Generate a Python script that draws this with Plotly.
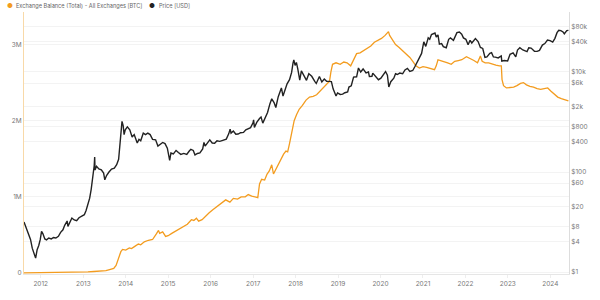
import plotly.graph_objects as go

# ---------------- data ----------------
price_dates = [
 "2011-08-10","2011-08-25","2011-09-15","2011-10-05","2011-10-20","2011-11-05","2011-11-18","2011-12-01","2011-12-15","2011-12-28",
 "2012-01-08","2012-01-20","2012-02-05","2012-02-20","2012-03-10","2012-04-01","2012-04-20","2012-05-10","2012-06-01","2012-06-20",
 "2012-07-10","2012-07-25","2012-08-15","2012-08-22","2012-09-10","2012-09-25","2012-10-15","2012-11-05","2012-11-25","2012-12-15",
 "2013-01-10","2013-01-25","2013-02-10","2013-02-25","2013-03-10","2013-03-25","2013-04-05","2013-04-09","2013-04-12","2013-04-25",
 "2013-05-15","2013-06-05","2013-06-25","2013-07-05","2013-07-20","2013-08-10","2013-09-01","2013-09-25","2013-10-15","2013-11-01",
 "2013-11-10","2013-11-20","2013-11-30","2013-12-10","2013-12-18","2013-12-28","2014-01-15","2014-02-05","2014-02-25","2014-03-15",
 "2014-04-10","2014-04-25","2014-05-10","2014-06-01","2014-06-20","2014-07-10","2014-07-30","2014-08-20","2014-09-15","2014-10-05",
 "2014-10-25","2014-11-15","2014-12-05","2014-12-25","2015-01-14","2015-01-25","2015-02-15","2015-03-10","2015-03-30","2015-04-20",
 "2015-05-15","2015-06-10","2015-06-30","2015-07-15","2015-08-05","2015-08-20","2015-09-10","2015-10-01","2015-10-25","2015-11-05",
 "2015-11-15","2015-12-05","2015-12-25","2016-01-15","2016-02-05","2016-02-25","2016-03-20","2016-04-15","2016-05-15","2016-06-05",
 "2016-06-17","2016-06-25","2016-07-15","2016-08-05","2016-08-25","2016-09-15","2016-10-10","2016-10-30","2016-11-20","2016-12-10",
 "2016-12-31","2017-01-05","2017-01-12","2017-02-01","2017-02-25","2017-03-10","2017-03-25","2017-04-15","2017-05-05","2017-05-25",
 "2017-06-10","2017-06-30","2017-07-15","2017-08-05","2017-08-25","2017-09-01","2017-09-15","2017-10-01","2017-10-20","2017-11-10",
 "2017-11-28","2017-12-10","2017-12-17","2017-12-28","2018-01-08","2018-01-20","2018-02-06","2018-02-20","2018-03-10","2018-04-05",
 "2018-04-25","2018-05-20","2018-06-15","2018-06-28","2018-07-25","2018-08-15","2018-09-05","2018-09-25","2018-10-15","2018-11-05",
 "2018-11-20","2018-12-15","2018-12-28","2019-01-20","2019-02-10","2019-03-01","2019-03-25","2019-04-05","2019-04-25","2019-05-15",
 "2019-06-10","2019-06-26","2019-07-15","2019-08-05","2019-08-30","2019-09-20","2019-09-28","2019-10-20","2019-10-27","2019-11-20",
 "2019-12-15","2020-01-05","2020-01-25","2020-02-14","2020-03-01","2020-03-13","2020-03-30","2020-04-25","2020-05-10","2020-05-25",
 "2020-06-15","2020-07-10","2020-07-30","2020-08-20","2020-09-10","2020-10-05","2020-10-25","2020-11-15","2020-12-01","2020-12-20",
 "2021-01-08","2021-01-25","2021-02-15","2021-02-28","2021-03-15","2021-04-14","2021-04-25","2021-05-10","2021-05-22","2021-06-10",
 "2021-06-25","2021-07-20","2021-08-10","2021-08-25","2021-09-20","2021-10-10","2021-10-20","2021-11-10","2021-11-30","2021-12-15",
 "2022-01-05","2022-01-24","2022-02-10","2022-02-25","2022-03-28","2022-04-20","2022-05-10","2022-05-30","2022-06-18","2022-07-05",
 "2022-07-30","2022-08-14","2022-08-30","2022-09-15","2022-10-10","2022-11-05","2022-11-10","2022-12-01","2022-12-30","2023-01-20",
 "2023-02-15","2023-03-10","2023-03-25","2023-04-14","2023-05-10","2023-06-15","2023-06-30","2023-07-20","2023-08-18","2023-09-10",
 "2023-09-30","2023-10-25","2023-11-15","2023-12-08","2023-12-30","2024-01-22","2024-02-10","2024-02-28","2024-03-14","2024-04-01",
 "2024-04-20","2024-05-01","2024-05-22","2024-06-05",
]
price_usd = [
 10,8,5.5,4.5,3.0,2.4,1.9,2.8,3.4,4.5,
 6.5,5.8,4.6,4.4,4.8,4.6,4.9,4.8,5.2,6.2,
 7.0,8.6,10.5,8.2,10.5,12,11,10.6,12.2,13,
 14,17,23,30,45,75,135,200,110,130,
 115,110,95,70,85,100,115,120,140,180,
 300,550,1030,850,560,700,800,700,500,560,
 380,450,420,600,560,600,560,450,440,330,
 360,390,370,300,170,240,230,270,245,225,
 235,225,260,285,270,220,235,240,290,390,
 330,380,440,380,375,420,410,430,455,580,
 720,600,660,570,575,610,620,700,740,770,
 960,1100,780,980,1170,1250,950,1180,1550,2300,
 2900,2450,1950,3200,4300,4800,3300,4300,5800,7000,
 9800,15000,17500,13500,15500,11500,6900,10500,9000,6800,
 9200,8200,6500,5900,8100,6300,7200,6500,6500,6400,
 4600,3300,3800,3550,3600,3850,4000,5000,5300,7900,
 8000,12000,10000,11500,9600,10000,8100,8200,9500,8000,
 7000,7500,8600,10200,8600,5000,6400,7500,9200,8900,
 9500,9200,11000,11800,10300,10700,13000,16000,19000,23500,
 40000,32500,48000,45000,56000,60000,50000,55000,36000,37000,
 32000,30500,45000,48000,43000,55000,61000,63000,57000,48000,
 45000,35000,43000,38000,46500,40500,31000,29500,19500,20000,
 23500,24300,20000,19800,19100,21000,16500,17000,16600,22500,
 24000,20000,27500,30500,27500,25500,30500,30000,26000,25800,
 27000,34500,37000,43500,42500,39500,47000,61000,68000,67000,
 63000,58000,67000,68000,
]

bal_dates = [
 "2011-08-10","2012-01-01","2012-06-01","2012-12-01","2013-01-20","2013-02-10","2013-04-01","2013-06-01","2013-07-15","2013-08-15",
 "2013-09-20","2013-10-10","2013-10-25","2013-11-05","2013-11-20","2013-12-05","2014-01-01","2014-02-01","2014-02-20","2014-03-20",
 "2014-04-20","2014-05-10","2014-06-10","2014-07-15","2014-08-20","2014-09-20","2014-10-10","2014-10-20","2014-11-15","2014-12-10",
 "2015-01-01","2015-02-01","2015-03-15","2015-05-01","2015-06-15","2015-07-20","2015-08-10","2015-09-01","2015-09-20","2015-10-20",
 "2015-11-20","2015-12-20","2016-01-20","2016-03-01","2016-04-15","2016-05-10","2016-06-15","2016-07-15","2016-08-20","2016-09-20",
 "2016-10-25","2016-11-20","2016-12-20","2017-01-15","2017-02-10","2017-02-25","2017-03-15","2017-04-10","2017-05-01","2017-05-20",
 "2017-06-10","2017-06-25","2017-07-20","2017-08-10","2017-09-01","2017-09-20","2017-10-10","2017-10-25","2017-11-10","2017-12-01",
 "2017-12-20","2018-01-10","2018-02-01","2018-03-01","2018-04-01","2018-05-01","2018-06-01","2018-07-01","2018-08-01","2018-09-01",
 "2018-10-01","2018-10-20","2018-11-01","2018-11-15","2018-12-15","2019-01-20","2019-02-20","2019-03-20","2019-04-20","2019-05-15",
 "2019-06-10","2019-07-10","2019-08-10","2019-09-10","2019-10-10","2019-11-10","2019-12-10","2020-01-10","2020-02-10","2020-03-10",
 "2020-03-20","2020-04-15","2020-05-10","2020-06-10","2020-07-10","2020-08-10","2020-09-10","2020-10-10","2020-11-01","2020-12-01",
 "2021-01-01","2021-02-01","2021-03-01","2021-04-10","2021-04-25","2021-05-10","2021-06-01","2021-07-01","2021-08-01","2021-09-01",
 "2021-10-01","2021-11-01","2021-12-01","2022-01-10","2022-02-10","2022-03-15","2022-04-15","2022-05-10","2022-05-25","2022-06-20",
 "2022-07-20","2022-08-20","2022-09-20","2022-10-20","2022-11-06","2022-11-12","2022-11-25","2022-12-20","2023-01-20","2023-02-20",
 "2023-03-20","2023-04-20","2023-05-15","2023-06-10","2023-07-10","2023-08-10","2023-09-10","2023-10-10","2023-11-10","2023-12-10",
 "2024-01-05","2024-02-05","2024-03-05","2024-04-05","2024-05-05","2024-06-05",
]
bal_btc = [
 2000,3000,5000,8000,10000,15000,20000,25000,30000,45000,
 60000,100000,160000,230000,280000,310000,300000,330000,320000,350000,
 380000,370000,410000,430000,440000,510000,560000,520000,540000,480000,
 490000,520000,560000,600000,640000,700000,690000,720000,680000,700000,
 750000,790000,830000,880000,940000,960000,930000,980000,970000,1000000,
 1000000,1030000,1010000,1000000,990000,1170000,1230000,1220000,1300000,1340000,
 1420000,1300000,1380000,1450000,1500000,1560000,1600000,1590000,1700000,1850000,
 2000000,2080000,2150000,2200000,2270000,2310000,2320000,2340000,2390000,2440000,
 2490000,2520000,2640000,2740000,2760000,2740000,2770000,2760000,2720000,2790000,
 2880000,2890000,2920000,2950000,2980000,3030000,3050000,3080000,3120000,3170000,
 3120000,3060000,3000000,2960000,2920000,2870000,2830000,2770000,2720000,2690000,
 2710000,2700000,2690000,2670000,2720000,2800000,2790000,2780000,2760000,2740000,
 2780000,2790000,2800000,2840000,2820000,2790000,2760000,2850000,2780000,2760000,
 2760000,2740000,2730000,2720000,2720000,2540000,2460000,2430000,2440000,2440000,
 2460000,2490000,2500000,2470000,2450000,2440000,2420000,2410000,2420000,2430000,
 2390000,2350000,2310000,2290000,2270000,2260000,
]

bal_tickvals = [0, 1_000_000, 2_000_000, 3_000_000]
bal_ticktext = ["0", "1M", "2M", "3M"]
price_tickvals = [1, 4, 8, 20, 60, 100, 400, 800, 2000, 6000, 10000, 40000, 80000]
price_ticktext = ["$1", "$4", "$8", "$20", "$60", "$100", "$400", "$800", "$2k", "$6k", "$10k", "$40k", "$80k"]

name_bal = "Exchange Balance (Total) - All Exchanges [BTC]"
name_price = "Price [USD]"

ORANGE = "#f39c1f"
BLACK = "#222222"
FONT = "Inter"

fig = go.Figure()
fig.add_trace(go.Scatter(x=bal_dates, y=bal_btc, name=name_bal, mode="lines",
                         line=dict(color=ORANGE, width=1.3), yaxis="y", showlegend=False))
fig.add_trace(go.Scatter(x=price_dates, y=price_usd, name=name_price, mode="lines",
                         line=dict(color=BLACK, width=1.4), yaxis="y2", showlegend=False))

ML, MR, MT, MB = 18, 28, 12, 22
W, H = 600, 300

fig.update_layout(
    width=W, height=H,
    margin=dict(l=ML, r=MR, t=MT, b=MB),
    paper_bgcolor="white", plot_bgcolor="white",
    font=dict(family=FONT, size=6.5, color="#777"),
    xaxis=dict(
        type="date", range=["2011-08-10", "2024-06-10"],
        dtick="M12", tick0="2012-01-01", tickformat="%Y",
        showgrid=False, showline=True, linecolor="#e6e6e6", linewidth=1,
        ticks="outside", ticklen=3, tickcolor="#eeeeee",
        tickfont=dict(size=6.5, color="#777"),
    ),
    yaxis=dict(
        range=[-13000, 3427000], tickvals=bal_tickvals, ticktext=bal_ticktext,
        showgrid=True, gridcolor="#f3f3f3", zeroline=False,
        showline=True, linecolor="#f8d9a8", linewidth=1,
        tickfont=dict(size=6.5, color="#777"), ticks="",
    ),
    yaxis2=dict(
        type="log", range=[-0.039, 5.199], overlaying="y", side="right",
        tickvals=price_tickvals, ticktext=price_ticktext,
        showgrid=True, gridcolor="#f3f3f3", zeroline=False,
        showline=True, linecolor="#dddddd", linewidth=1,
        tickfont=dict(size=6.5, color="#777"), ticks="",
    ),
)

# legend built from annotations placed in pixel terms
def px_to_paper_x(px):
    return (px - ML) / (W - ML - MR)

def py_to_paper_y(py):
    return (H - MB - py) / (H - MT - MB)

legend_items = [
    (3.5, "●", ORANGE, "center", 6.5),
    (8, name_bal, "#666", "left", 5.6),
    (148.5, "●", BLACK, "center", 6.5),
    (153, name_price, "#666", "left", 5.6),
]
anns = []
for px, txt, col, anchor, size in legend_items:
    anns.append(dict(text=txt, x=px_to_paper_x(px), y=py_to_paper_y(5.5), xref="paper", yref="paper",
                     xanchor=anchor, yanchor="middle", showarrow=False,
                     font=dict(color=col, size=size, family=FONT)))
fig.update_layout(annotations=anns)

fig.write_html("out.html")
